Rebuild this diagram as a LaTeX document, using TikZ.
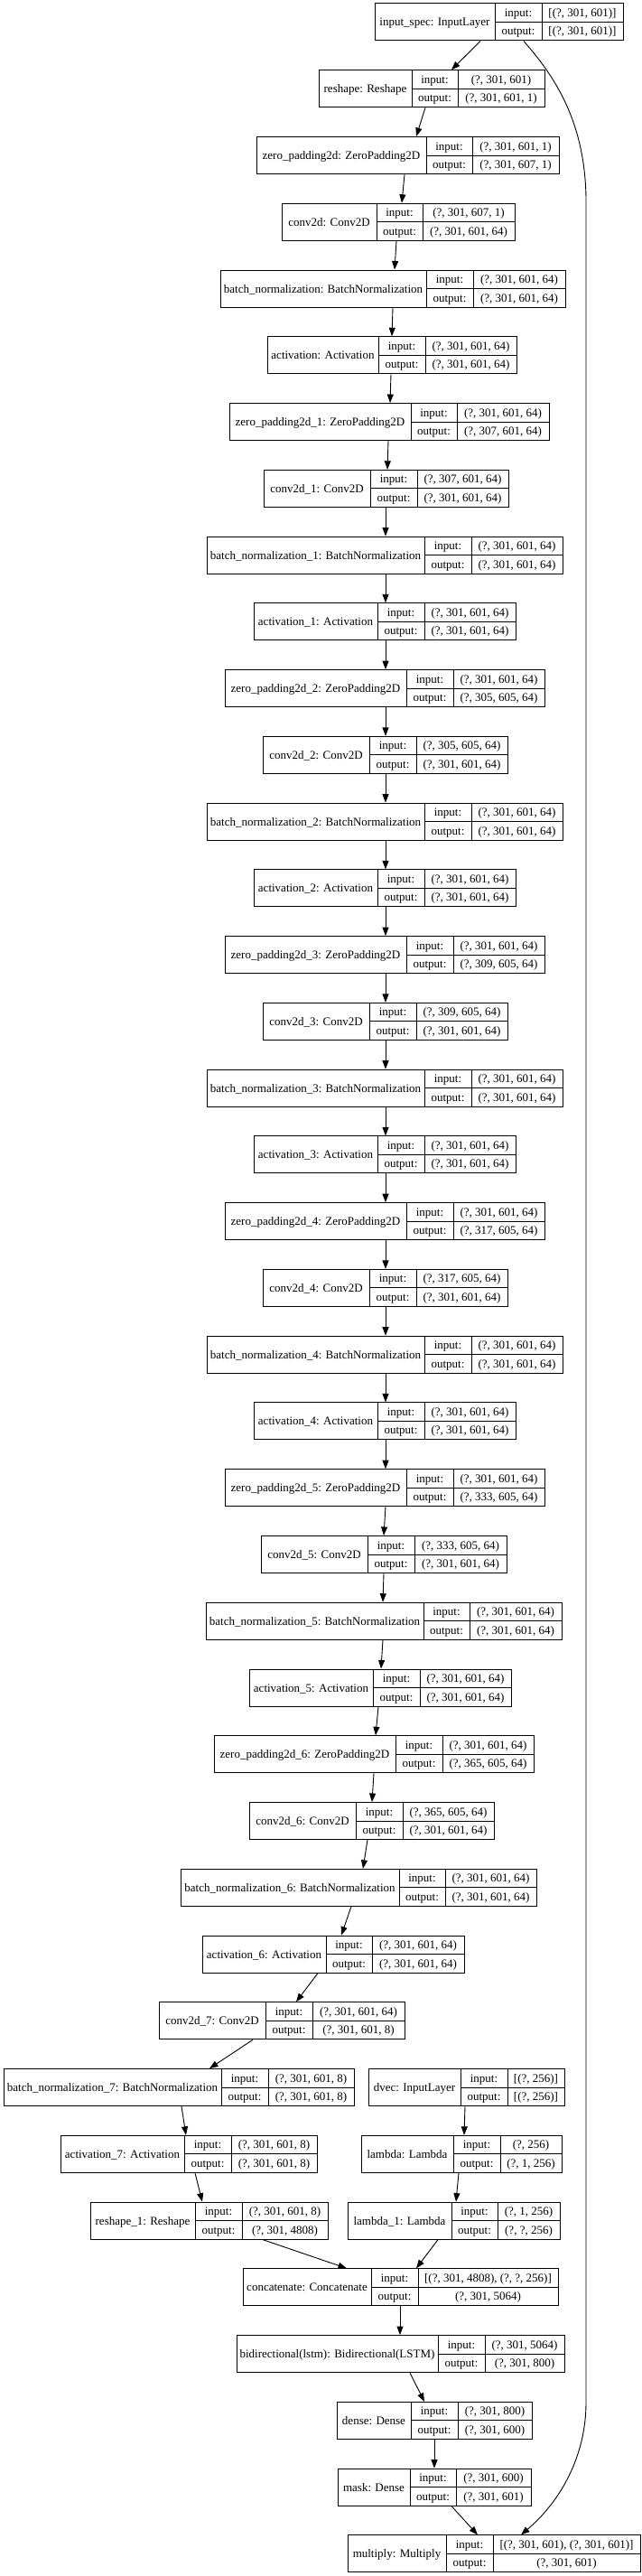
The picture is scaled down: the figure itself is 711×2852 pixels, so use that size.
\documentclass[tikz,border=0pt]{standalone}
\usepackage{fontspec}
\setmainfont{Liberation Serif}
\usetikzlibrary{arrows.meta}

\tikzset{
  layerbox/.style={draw=black, line width=1pt, inner sep=0pt, minimum height=41pt},
  cellline/.style={line width=1pt},
  celltext/.style={inner sep=0pt, anchor=base, font=\fontsize{13}{15}\selectfont},
  edge/.style={line width=0.9pt, -{Triangle[length=9.5pt,width=7pt]}},
}

% #1 name, #2 left, #3 first divider, #4 second divider, #5 right, #6 row,
% #7 layer text, #8 input shape, #9 output shape
\newcommand{\layer}[9]{%
  \pgfmathsetmacro{\lyrtop}{4+73.76*#6}%
  \pgfmathsetmacro{\lyrbot}{\lyrtop+41}%
  \pgfmathsetmacro{\lyrmid}{\lyrtop+20.5}%
  \pgfmathsetmacro{\lyrw}{#5-#2}%
  \node[layerbox, minimum width=\lyrw pt] (#1) at ({(#2+#5)/2},\lyrmid) {};
  \draw[cellline] (#3,\lyrtop) -- (#3,\lyrbot) (#4,\lyrtop) -- (#4,\lyrbot) (#3,\lyrmid) -- (#5,\lyrmid);
  \node[celltext] at ({(#2+#3)/2},{\lyrtop+25}) {#7};
  \node[celltext] at ({(#3+#4)/2},{\lyrtop+14.5}) {input:};
  \node[celltext] at ({(#3+#4)/2},{\lyrtop+35}) {output:};
  \node[celltext] at ({(#4+#5)/2},{\lyrtop+14.5}) {#8};
  \node[celltext] at ({(#4+#5)/2},{\lyrtop+35}) {#9};
}

\begin{document}
\begin{tikzpicture}[x=1pt,y=-1pt]
\useasboundingbox (0,0) rectangle (711,2852);

% main column
\layer{inspec}{415}{548}{600}{690}{0}{input\_spec: InputLayer}{[(?, 301, 601)]}{[(?, 301, 601)]}
\layer{reshape}{353}{456}{507}{603}{1}{reshape: Reshape}{(?, 301, 601)}{(?, 301, 601, 1)}
\layer{zp}{284}{472}{523}{619}{2}{zero\_padding2d: ZeroPadding2D}{(?, 301, 601, 1)}{(?, 301, 607, 1)}
\layer{conv}{312}{417}{468}{570}{3}{conv2d: Conv2D}{(?, 301, 607, 1)}{(?, 301, 601, 64)}
\layer{bn}{244}{472}{524}{626}{4}{batch\_normalization: BatchNormalization}{(?, 301, 601, 64)}{(?, 301, 601, 64)}
\layer{act}{296}{419}{471}{572}{5}{activation: Activation}{(?, 301, 601, 64)}{(?, 301, 601, 64)}

\layer{zp1}{254}{455}{506}{608}{6}{zero\_padding2d\_1: ZeroPadding2D}{(?, 301, 601, 64)}{(?, 307, 601, 64)}
\layer{conv1}{292}{410}{462}{563}{7}{conv2d\_1: Conv2D}{(?, 307, 601, 64)}{(?, 301, 601, 64)}
\layer{bn1}{229}{470}{522}{623}{8}{batch\_normalization\_1: BatchNormalization}{(?, 301, 601, 64)}{(?, 301, 601, 64)}
\layer{act1}{281}{418}{470}{571}{9}{activation\_1: Activation}{(?, 301, 601, 64)}{(?, 301, 601, 64)}

\layer{zp2}{249}{450}{502}{603}{10}{zero\_padding2d\_2: ZeroPadding2D}{(?, 301, 601, 64)}{(?, 305, 605, 64)}
\layer{conv2}{291}{409}{461}{562}{11}{conv2d\_2: Conv2D}{(?, 305, 605, 64)}{(?, 301, 601, 64)}
\layer{bn2}{229}{470}{522}{623}{12}{batch\_normalization\_2: BatchNormalization}{(?, 301, 601, 64)}{(?, 301, 601, 64)}
\layer{act2}{281}{418}{470}{571}{13}{activation\_2: Activation}{(?, 301, 601, 64)}{(?, 301, 601, 64)}

\layer{zp3}{249}{450}{502}{603}{14}{zero\_padding2d\_3: ZeroPadding2D}{(?, 301, 601, 64)}{(?, 309, 605, 64)}
\layer{conv3}{291}{409}{461}{562}{15}{conv2d\_3: Conv2D}{(?, 309, 605, 64)}{(?, 301, 601, 64)}
\layer{bn3}{229}{470}{522}{623}{16}{batch\_normalization\_3: BatchNormalization}{(?, 301, 601, 64)}{(?, 301, 601, 64)}
\layer{act3}{281}{418}{470}{571}{17}{activation\_3: Activation}{(?, 301, 601, 64)}{(?, 301, 601, 64)}

\layer{zp4}{249}{450}{502}{603}{18}{zero\_padding2d\_4: ZeroPadding2D}{(?, 301, 601, 64)}{(?, 317, 605, 64)}
\layer{conv4}{291}{409}{461}{562}{19}{conv2d\_4: Conv2D}{(?, 317, 605, 64)}{(?, 301, 601, 64)}
\layer{bn4}{229}{470}{522}{623}{20}{batch\_normalization\_4: BatchNormalization}{(?, 301, 601, 64)}{(?, 301, 601, 64)}
\layer{act4}{281}{418}{470}{571}{21}{activation\_4: Activation}{(?, 301, 601, 64)}{(?, 301, 601, 64)}

\layer{zp5}{249}{450}{502}{603}{22}{zero\_padding2d\_5: ZeroPadding2D}{(?, 301, 601, 64)}{(?, 333, 605, 64)}
\layer{conv5}{289}{407}{459}{561}{23}{conv2d\_5: Conv2D}{(?, 333, 605, 64)}{(?, 301, 601, 64)}
\layer{bn5}{228}{469}{520}{622}{24}{batch\_normalization\_5: BatchNormalization}{(?, 301, 601, 64)}{(?, 301, 601, 64)}
\layer{act5}{276}{413}{465}{566}{25}{activation\_5: Activation}{(?, 301, 601, 64)}{(?, 301, 601, 64)}

\layer{zp6}{237}{438}{490}{591}{26}{zero\_padding2d\_6: ZeroPadding2D}{(?, 301, 601, 64)}{(?, 365, 605, 64)}
\layer{conv6}{276}{394}{446}{547}{27}{conv2d\_6: Conv2D}{(?, 365, 605, 64)}{(?, 301, 601, 64)}
\layer{bn6}{200}{442}{493}{594}{28}{batch\_normalization\_6: BatchNormalization}{(?, 301, 601, 64)}{(?, 301, 601, 64)}
\layer{act6}{224}{361}{412}{514}{29}{activation\_6: Activation}{(?, 301, 601, 64)}{(?, 301, 601, 64)}

\layer{conv7}{176}{294}{346}{448}{30}{conv2d\_7: Conv2D}{(?, 301, 601, 64)}{(?, 301, 601, 8)}
\layer{bn7}{4}{245}{297}{392}{31}{batch\_normalization\_7: BatchNormalization}{(?, 301, 601, 8)}{(?, 301, 601, 8)}
\layer{act7}{67}{204}{256}{351}{32}{activation\_7: Activation}{(?, 301, 601, 8)}{(?, 301, 601, 8)}
\layer{reshapeA}{100}{216}{268}{363}{33}{reshape\_1: Reshape}{(?, 301, 601, 8)}{(?, 301, 4808)}

% second input
\layer{dvec}{408}{510}{562}{625}{31}{dvec: InputLayer}{[(?, 256)]}{[(?, 256)]}
\layer{lambda}{400}{502}{554}{622}{32}{lambda: Lambda}{(?, 256)}{(?, 1, 256)}
\layer{lambdaA}{385}{500}{551}{620}{33}{lambda\_1: Lambda}{(?, 1, 256)}{(?, ?, 256)}

% head
\layer{concat}{269}{411}{463}{618}{34}{concatenate: Concatenate}{[(?, 301, 4808), (?, ?, 256)]}{(?, 301, 5064)}
\layer{bilstm}{262}{485}{537}{625}{35}{bidirectional(lstm): Bidirectional(LSTM)}{(?, 301, 5064)}{(?, 301, 800)}
\layer{dense}{373}{455}{507}{589}{36}{dense: Dense}{(?, 301, 800)}{(?, 301, 600)}
\layer{mask}{374}{454}{505}{588}{37}{mask: Dense}{(?, 301, 600)}{(?, 301, 601)}
\layer{multiply}{385}{494}{546}{709}{38}{multiply: Multiply}{[(?, 301, 601), (?, 301, 601)]}{(?, 301, 601)}

% connectors
\foreach \a/\xa/\b/\xb in {inspec/532/reshape/500, reshape/471/zp/461, zp/448/conv/445,
  conv/439/bn/437, bn/435/act/434, act/433/zp1/432, zp1/430/conv1/429,
  conv1/427/bn1/427, bn1/427/act1/427, act1/427/zp2/427, zp2/427/conv2/427,
  conv2/427/bn2/427, bn2/427/act2/427, act2/427/zp3/427, zp3/427/conv3/427,
  conv3/427/bn3/427, bn3/427/act3/427, act3/427/zp4/427, zp4/427/conv4/427,
  conv4/427/bn4/427, bn4/427/act4/427, act4/427/zp5/427, zp5/427/conv5/425,
  conv5/425/bn5/424, bn5/424/act5/422, act5/419/zp6/416, zp6/414/conv6/412,
  conv6/407/bn6/402, bn6/389/act6/378, act6/352/conv7/328, conv7/280/bn7/232,
  bn7/201/act7/206, act7/216/reshapeA/224, reshapeA/291/concat/384,
  dvec/515/lambda/514, lambda/508/lambdaA/505, lambdaA/485/concat/461,
  concat/443/bilstm/443, bilstm/454/dense/470, dense/481/mask/481, mask/500/multiply/529}
  \draw[edge] (\a.south -| \xa,0) -- (\b.north -| \xb,0);

% skip connection
\draw[edge] (inspec.south -| 580,0) .. controls (610,80) and (648,130) .. (649,220)
  -- (649,2660) .. controls (649,2720) and (620,2770) .. (multiply.north -| 577,0);
\end{tikzpicture}
\end{document}
